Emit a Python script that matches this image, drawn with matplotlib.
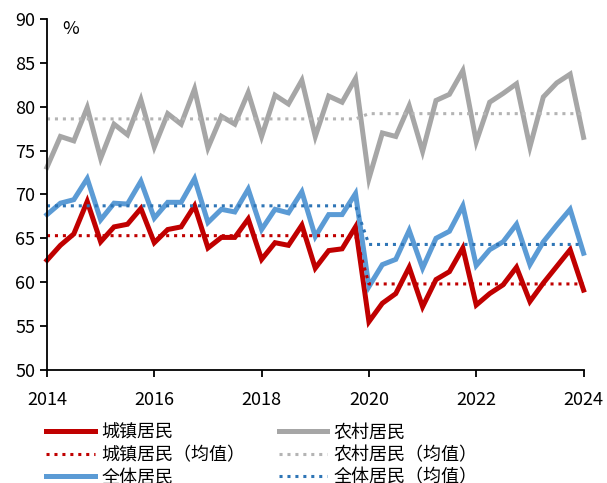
import matplotlib.pyplot as plt
import numpy as np

plt.rcParams['font.family'] = ['Noto Sans CJK SC', 'DejaVu Sans']

# 季度数据：2014Q1 - 2024Q1
years = 2014 + np.arange(41) / 4

urban = [62.5, 64.2, 65.5, 69.2, 64.6, 66.3, 66.6, 68.4, 64.5, 66.0,
         66.3, 68.7, 63.9, 65.1, 65.1, 67.2, 62.6, 64.5, 64.2, 66.5,
         61.6, 63.6, 63.8, 66.3, 55.5, 57.6, 58.7, 61.7, 57.2, 60.3,
         61.2, 63.9, 57.4, 58.7, 59.7, 61.7, 57.8, 59.9, 61.8, 63.7,
         59.1]
rural = [73.1, 76.6, 76.1, 79.9, 74.1, 78.0, 76.8, 80.8, 75.4, 79.2,
         78.0, 82.0, 75.3, 78.9, 78.0, 81.6, 76.6, 81.3, 80.3, 83.0,
         76.6, 81.2, 80.5, 83.2, 71.8, 77.0, 76.6, 80.1, 74.9, 80.7,
         81.4, 84.1, 76.0, 80.5, 81.5, 82.6, 75.4, 81.1, 82.7, 83.7,
         76.5]
total = [67.7, 69.0, 69.4, 71.8, 67.1, 69.0, 68.9, 71.5, 67.3, 69.1,
         69.1, 71.8, 66.8, 68.3, 68.0, 70.6, 66.0, 68.3, 67.9, 70.3,
         65.2, 67.7, 67.7, 70.1, 59.5, 62.0, 62.6, 65.9, 61.6, 65.0,
         65.8, 68.7, 61.9, 63.7, 64.6, 66.6, 62.0, 64.6, 66.5, 68.3,
         63.3]

# 均值：2014-2019 与 2020 以后
urban_mean = [65.3] * 24 + [59.8] * 17
rural_mean = [78.6] * 24 + [79.2] * 17
total_mean = [68.7] * 24 + [64.3] * 17

red = '#C00000'
gray = '#A6A6A6'
blue = '#5B9BD5'
dblue = '#2E75B6'

fig = plt.figure(figsize=(6.07, 4.83), dpi=100)
ax = fig.add_axes([0.0774, 0.234, 0.884, 0.727])

lw = 3.6
h1, = ax.plot(years, urban, color=red, lw=lw, label='城镇居民', clip_on=False, solid_joinstyle='miter')
h4, = ax.plot(years, rural, color=gray, lw=lw, label='农村居民', clip_on=False, solid_joinstyle='miter')
h3, = ax.plot(years, total, color=blue, lw=lw, label='全体居民', clip_on=False, solid_joinstyle='miter')
h2, = ax.plot(years, urban_mean, color=red, lw=2.2, ls=(0, (1, 1.6)), label='城镇居民（均值）')
h5, = ax.plot(years, rural_mean, color='#B4B4B4', lw=2.2, ls=(0, (1, 1.6)), label='农村居民（均值）')
h6, = ax.plot(years, total_mean, color=dblue, lw=2.2, ls=(0, (1, 1.6)), label='全体居民（均值）')

ax.set_xlim(2014, 2024)
ax.set_ylim(50, 90)
ax.set_xticks([2014, 2016, 2018, 2020, 2022, 2024])
ax.set_yticks(np.arange(50, 91, 5))
ax.tick_params(labelsize=13, direction='out', length=5, width=1.3, color='black')
ax.tick_params(axis='x', pad=10)
for s in ['top', 'right']:
    ax.spines[s].set_visible(False)
for s in ['left', 'bottom']:
    ax.spines[s].set_linewidth(1.3)

ax.text(0.028, 0.972, '%', transform=ax.transAxes, fontsize=13, ha='left', va='center')

# 图例在底部，第三行与原图一样被裁掉一半
fig.legend(handles=[h1, h2, h3, h4, h5, h6], ncol=2, loc='upper left',
           bbox_to_anchor=(0.076, 0.123), frameon=False, fontsize=13,
           handlelength=2.7, handletextpad=0.35, columnspacing=1.85,
           labelspacing=0.25, borderpad=0, borderaxespad=0)

fig.savefig('out.png', dpi=100)
